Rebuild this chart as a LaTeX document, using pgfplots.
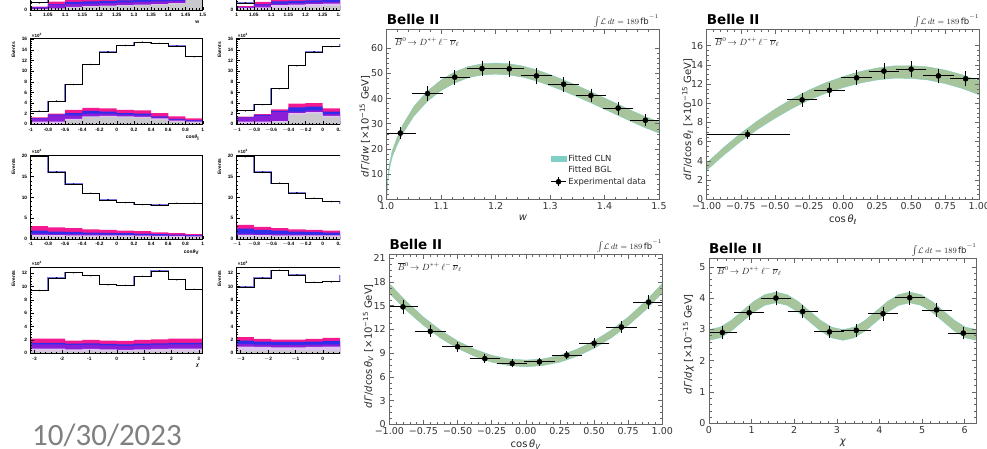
\documentclass[border=0pt]{standalone}
\usepackage{fontspec}
\setmainfont{DejaVu Sans}
\newfontfamily\hfont{Liberation Sans}
\newfontfamily\datefont{Carlito}
\usepackage{pgfplots}
\usepackage{pgfplotstable}
\pgfplotsset{compat=1.18}

\definecolor{hmag}{RGB}{245,25,145}
\definecolor{hblu}{RGB}{45,45,235}
\definecolor{hpur}{RGB}{140,30,215}
\definecolor{hlig}{RGB}{225,195,240}
\definecolor{hgry}{RGB}{200,200,205}
\definecolor{hband}{RGB}{120,120,235}
\definecolor{bandc}{RGB}{168,196,155}
\definecolor{bandedge}{RGB}{120,205,190}
\definecolor{clnteal}{RGB}{127,207,197}

% ---------- histogram tables (x = bin left edge, last row = right edge) ----------
\pgfplotstableread{
x t g l p b m
1.00 1.35 0.1 0.15 0.5 0.55 0.65
1.05 3.5 0.2 0.3 1.0 1.1 1.55
1.10 6.0 0.5 0.6 1.1 1.5 2.1
1.15 8.0 0.6 0.7 1.2 1.6 2.2
1.20 9.0 0.7 0.8 1.3 1.7 2.3
1.25 9.5 0.8 0.9 1.4 1.8 2.4
1.30 9.5 0.9 1.0 1.5 1.9 2.4
1.35 9.0 1.0 1.1 1.6 1.95 2.4
1.40 8.5 1.2 1.3 1.7 2.0 2.3
1.45 8.0 1.9 2.0 2.2 2.3 2.5
1.50 8.0 1.9 2.0 2.2 2.3 2.5
}\hwA
\pgfplotstableread{
x t g l p b m
1.00 1.3 0.1 0.4 0.55 0.6 0.7
1.05 3.2 0.2 0.5 1.0 1.1 1.5
1.10 5.8 0.4 0.9 1.2 1.6 2.1
1.15 7.8 0.5 1.0 1.3 1.7 2.2
1.20 9.0 0.6 1.1 1.4 1.8 2.3
1.25 9.4 0.7 1.2 1.5 1.9 2.4
1.30 9.4 0.8 1.3 1.6 2.0 2.4
1.35 9.0 0.9 1.4 1.7 2.0 2.4
1.40 8.5 1.1 1.5 1.8 2.1 2.3
1.45 8.0 1.7 1.9 2.1 2.2 2.4
1.50 8.0 1.7 1.9 2.1 2.2 2.4
}\hwB
\pgfplotstableread{
x t g l p b m
-1.0 2.45 0.1 0.5 1.1 1.15 1.3
-0.8 4.33 0.1 0.5 1.7 1.8 2.0
-0.6 7.47 0.8 1.0 1.7 2.1 2.7
-0.4 11.23 1.3 1.5 2.0 2.5 3.1
-0.2 13.6 1.4 1.6 2.0 2.4 3.0
0.0 14.8 1.3 1.5 1.8 2.1 2.7
0.2 15.4 1.2 1.4 1.7 2.0 2.6
0.4 15.2 0.9 1.1 1.3 1.5 2.1
0.6 14.7 0.5 0.7 0.9 1.0 1.5
0.8 12.7 0.3 0.5 0.7 0.8 1.1
1.0 12.7 0.3 0.5 0.7 0.8 1.1
}\hclA
\pgfplotstableread{
x t g l p b m
-1.0 2.55 0.1 0.5 1.2 1.3 1.45
-0.8 3.7 0.1 0.5 1.6 1.75 1.9
-0.6 6.7 0.4 0.6 2.3 2.5 2.8
-0.4 11.0 1.8 2.1 2.4 3.2 3.9
-0.2 13.6 2.0 2.3 2.6 3.3 4.0
0.0 14.6 1.3 1.6 1.9 2.4 3.0
0.2 15.0 1.0 1.3 1.6 2.0 2.6
0.4 15.0 0.8 1.1 1.3 1.6 2.1
0.6 14.5 0.5 0.8 1.0 1.2 1.6
0.8 12.5 0.3 0.6 0.8 0.9 1.2
1.0 12.5 0.3 0.6 0.8 0.9 1.2
}\hclB
\pgfplotstableread{
x t g l p b m
-1.0 20.0 0.5 1.0 1.3 2.0 3.1
-0.8 16.1 0.5 0.95 1.2 1.8 2.8
-0.6 13.2 0.5 0.9 1.15 1.7 2.6
-0.4 11.0 0.5 0.9 1.1 1.55 2.3
-0.2 9.4 0.5 0.85 1.05 1.5 2.2
0.0 8.75 0.5 0.85 1.0 1.4 2.0
0.2 8.27 0.45 0.8 0.95 1.3 1.9
0.4 8.2 0.45 0.75 0.9 1.15 1.6
0.6 8.6 0.4 0.7 0.85 1.05 1.4
0.8 8.6 0.4 0.65 0.8 0.95 1.2
1.0 8.6 0.4 0.65 0.8 0.95 1.2
}\hcvA
\pgfplotstableread{
x t g l p b m
-1.0 19.8 0.5 1.0 1.3 2.5 3.4
-0.8 16.1 0.5 0.95 1.2 2.2 2.9
-0.6 13.4 0.5 0.9 1.15 2.0 2.6
-0.4 11.1 0.5 0.9 1.1 1.8 2.3
-0.2 9.8 0.5 0.85 1.05 1.7 2.2
0.0 9.0 0.5 0.85 1.0 1.55 2.0
0.2 8.6 0.45 0.8 0.95 1.4 1.9
0.4 8.4 0.45 0.75 0.9 1.2 1.6
0.6 8.5 0.4 0.7 0.85 1.1 1.4
0.8 8.5 0.4 0.65 0.8 1.0 1.2
1.0 8.5 0.4 0.65 0.8 1.0 1.2
}\hcvB
\pgfplotstableread{
x t g l p b m
-3.1416 9.4 0.3 0.7 1.35 1.55 2.2
-2.5133 11.25 0.3 0.7 1.35 1.55 2.2
-1.8850 12.05 0.3 0.6 1.25 1.45 1.9
-1.2566 11.6 0.3 0.65 1.3 1.5 2.0
-0.6283 10.25 0.3 0.6 1.2 1.4 1.9
0.0000 10.15 0.3 0.5 1.1 1.35 1.85
0.6283 11.5 0.3 0.6 1.2 1.45 2.0
1.2566 12.3 0.3 0.65 1.3 1.5 2.1
1.8850 11.0 0.3 0.7 1.35 1.55 2.2
2.5133 9.55 0.3 0.7 1.35 1.55 2.2
3.1416 9.55 0.3 0.7 1.35 1.55 2.2
}\hchA
\pgfplotstableread{
x t g l p b m
-3.1416 9.9 0.4 1.0 1.4 1.9 2.4
-2.5133 11.25 0.4 0.95 1.3 1.75 2.15
-1.8850 12.4 0.4 0.9 1.25 1.7 2.05
-1.2566 11.7 0.4 0.9 1.25 1.7 2.05
-0.6283 10.6 0.4 0.95 1.3 1.75 2.15
0.0000 10.7 0.4 1.0 1.35 1.85 2.3
0.6283 11.6 0.4 1.0 1.35 1.85 2.3
1.2566 12.3 0.4 0.95 1.3 1.75 2.2
1.8850 11.0 0.4 0.95 1.3 1.75 2.2
2.5133 9.8 0.4 1.0 1.4 1.9 2.4
3.1416 9.8 0.4 1.0 1.4 1.9 2.4
}\hchB

% ---------- Belle II measured points ----------
\pgfplotstableread{
x y ex ey
1.025 26.3 0.025 1.6
1.075 42.0 0.025 2.2
1.125 48.5 0.025 2.4
1.175 51.9 0.025 2.5
1.225 51.8 0.025 2.5
1.275 49.0 0.025 2.4
1.325 45.7 0.025 2.3
1.375 41.2 0.025 2.1
1.425 36.2 0.025 1.9
1.475 31.4 0.025 1.7
}\dW
\pgfplotstableread{
x y ex ey
-0.7 6.75 0.3 0.35
-0.3 10.35 0.1 0.55
-0.1 11.35 0.1 0.55
0.1 12.65 0.1 0.6
0.3 13.35 0.1 0.65
0.5 13.55 0.1 0.65
0.7 12.85 0.1 0.6
0.9 12.55 0.1 0.6
}\dL
\pgfplotstableread{
x y ex ey
-0.9 14.85 0.1 0.7
-0.7 11.75 0.1 0.55
-0.5 9.8 0.1 0.45
-0.3 8.3 0.1 0.35
-0.1 7.7 0.1 0.3
0.1 7.9 0.1 0.3
0.3 8.75 0.1 0.35
0.5 10.25 0.1 0.45
0.7 12.3 0.1 0.55
0.9 15.45 0.1 0.7
}\dV
\pgfplotstableread{
x y ex ey
0.314 2.90 0.314 0.15
0.942 3.53 0.314 0.17
1.571 4.00 0.314 0.18
2.199 3.57 0.314 0.17
2.827 2.92 0.314 0.15
3.456 2.97 0.314 0.15
4.084 3.50 0.314 0.17
4.712 4.01 0.314 0.18
5.341 3.62 0.314 0.17
5.969 2.88 0.314 0.15
}\dC

\pgfplotsset{
  hist/.style={
    scale only axis, width=172pt, anchor=south west,
    axis on top, enlargelimits=false, clip=true,
    tick align=inside, tick pos=left,
    major tick length=3pt, minor tick length=1.6pt,
    every tick/.style={black, line width=0.35pt},
    axis line style={black, line width=0.6pt},
    ticklabel style={font=\hfont\bfseries\fontsize{4.8}{5}\selectfont},
    /pgf/number format/assume math mode=true,
    minor x tick num=4, minor y tick num=4,
    ylabel={Events},
    ylabel style={at={(rel axis cs:-0.1,1)}, anchor=east, font=\hfont\bfseries\fontsize{4.8}{5}\selectfont},
    xlabel style={at={(rel axis cs:1,0)}, anchor=north east, yshift=-7pt, font=\hfont\bfseries\fontsize{5}{6}\selectfont},
    ymin=0,
    after end axis/.code={
      \node[anchor=south west, inner sep=0pt, xshift=1pt, yshift=1pt, font=\hfont\bfseries\fontsize{4.5}{5}\selectfont] at (rel axis cs:0,1) {×10\textsuperscript{3}};
    },
  },
  hidden head/.style={ylabel={}, after end axis/.code={}},
  belle/.style={
    scale only axis, anchor=south west,
    axis on top, clip=true,
    axis line style={black!60, line width=0.6pt},
    every tick/.style={black!60, line width=0.5pt},
    tick align=inside,
    major tick length=4.5pt, minor tick length=2.5pt,
    ticklabel style={font=\fontsize{9.5}{11}\selectfont, text=black!80},
    /pgf/number format/assume math mode=true,
    label style={font=\fontsize{10}{12}\selectfont, text=black!85},
    xlabel style={at={(rel axis cs:0.5,0)}, anchor=north, yshift=-12pt},
    ymin=0,
    after end axis/.code={
      \node[anchor=base west, inner sep=0pt, yshift=5.3pt, font=\bfseries\fontsize{13.5}{15}\selectfont] at (rel axis cs:0,1) {Belle II};
      \node[anchor=base east, inner sep=0pt, yshift=5.3pt, font=\fontsize{8.5}{10}\selectfont, text=black!85] at (rel axis cs:1,1) {$\int\!\mathcal{L}\,dt = 189\,\mathrm{fb}^{-1}$};
      \node[anchor=base west, inner sep=0pt, xshift=8pt, yshift=-16pt, font=\fontsize{9}{10}\selectfont, text=black!85] at (rel axis cs:0,1) {$\overline{B}{}^{0}\!\rightarrow D^{*+}\,\ell^{-}\,\overline{\nu}_{\ell}$};
    },
  },
  pts/.style={only marks, mark=*, mark size=2.6pt, black,
    error bars/.cd, x dir=both, x explicit, y dir=both, y explicit,
    error bar style={line width=0.8pt, black},
    error mark options={black, line width=0.8pt, mark size=1.6pt}},
}

\newcommand{\hstack}[2]{%
  \addplot[const plot mark left, fill=hmag, draw=none] table[x=x,y=m]{#1} \closedcycle;
  \addplot[const plot mark left, fill=hblu, draw=none] table[x=x,y=b]{#1} \closedcycle;
  \addplot[const plot mark left, fill=hpur, draw=none] table[x=x,y=p]{#1} \closedcycle;
  \addplot[const plot mark left, fill=hlig, draw=none] table[x=x,y=l]{#1} \closedcycle;
  \addplot[const plot mark left, fill=hgry, draw=none] table[x=x,y=g]{#1} \closedcycle;
  \addplot[const plot mark left, color=hband, line width=1.4pt] table[x=x,y=t]{#1};
  \addplot[const plot mark left, black, line width=0.5pt] table[x=x,y=t]{#1};
  \addplot[only marks, mark=*, mark size=0.55pt, black, skip coords between index={10}{11}] table[x expr=\thisrow{x}+#2, y=t]{#1};
}

\begin{document}
\begin{tikzpicture}
\useasboundingbox (0,0) rectangle (987pt,448pt);
\clip (0,0) rectangle (987pt,448pt);

% ================= left column histograms =================
\begin{axis}[hist, hidden head, at={(30.7pt,438pt)}, height=86pt, xmin=1, xmax=1.5, ymax=16,
  xtick={1,1.05,1.1,1.15,1.2,1.25,1.3,1.35,1.4,1.45,1.5}, ytick={0,2,...,16}, yticklabels={0,2}, xlabel={w}]
\hstack{\hwA}{0.025}
\end{axis}
\begin{axis}[hist, at={(30.7pt,323.7pt)}, height=85.7pt, xmin=-1, xmax=1, ymax=16.1,
  xtick={-1,-0.8,-0.6,-0.4,-0.2,0,0.2,0.4,0.6,0.8,1}, ytick={0,2,...,16}, xlabel={cos\textit{θ}\textsubscript{l}}]
\hstack{\hclA}{0.1}
\end{axis}
\begin{axis}[hist, at={(30.7pt,209pt)}, height=84pt, xmin=-1, xmax=1, ymax=20.2,
  xtick={-1,-0.8,-0.6,-0.4,-0.2,0,0.2,0.4,0.6,0.8,1}, ytick={0,5,...,20}, xlabel={cos\textit{θ}\textsubscript{V}}]
\hstack{\hcvA}{0.1}
\end{axis}
\begin{axis}[hist, at={(30.7pt,94.7pt)}, height=86.3pt, xmin=-3.1416, xmax=3.1416, ymax=12.9,
  xtick={-3,-2,-1,0,1,2,3}, ytick={0,2,...,12}, xlabel={\textit{χ}}]
\hstack{\hchA}{0.31416}
\end{axis}

% ================= second column histograms (cut off) =================
\begin{scope}
\clip (0,0) rectangle (340pt,448pt);
\begin{axis}[hist, hidden head, at={(236.7pt,438pt)}, height=86pt, xmin=1, xmax=1.5, ymax=16,
  xtick={1,1.05,1.1,1.15,1.2,1.25,1.3,1.35,1.4,1.45,1.5},
  xticklabels={1,1.05,1.1,1.15,1.2,1.25,1.3},
  ytick={0,2,...,16}, yticklabels={0,2}]
\hstack{\hwB}{0.025}
\end{axis}
\begin{axis}[hist, at={(236.7pt,323.7pt)}, height=85.7pt, xmin=-1, xmax=1, ymax=16.1,
  xtick={-1,-0.8,-0.6,-0.4,-0.2,0,0.2,0.4,0.6,0.8,1},
  xticklabels={$-$1,$-$0.8,$-$0.6,$-$0.4,$-$0.2,0,0.2}, ytick={0,2,...,16}]
\hstack{\hclB}{0.1}
\end{axis}
\begin{axis}[hist, at={(236.7pt,209pt)}, height=84pt, xmin=-1, xmax=1, ymax=20.2,
  xtick={-1,-0.8,-0.6,-0.4,-0.2,0,0.2,0.4,0.6,0.8,1},
  xticklabels={$-$1,$-$0.8,$-$0.6,$-$0.4,$-$0.2,0,0.2}, ytick={0,5,...,20}]
\hstack{\hcvB}{0.1}
\end{axis}
\begin{axis}[hist, at={(236.7pt,94.7pt)}, height=86.3pt, xmin=-3.1416, xmax=3.1416, ymax=12.9,
  xtick={-3,-2,-1,0,1,2,3}, xticklabels={$-$3,$-$2,$-$1,0}, ytick={0,2,...,12}]
\hstack{\hchB}{0.31416}
\end{axis}
\end{scope}

% ================= Belle II: w =================
\begin{axis}[belle, at={(386.7pt,248.7pt)}, width=272.3pt, height=170pt,
  xmin=1, xmax=1.5, ymax=67.5,
  xtick={1,1.1,1.2,1.3,1.4,1.5}, xticklabels={1.0,1.1,1.2,1.3,1.4,1.5},
  ytick={0,10,20,30,40,50,60}, minor x tick num=4, minor y tick num=4,
  xlabel={\textit{w}},
  ylabel={\textit{dΓ}/\textit{dw} [×10\textsuperscript{−15} GeV]},
  ylabel style={at={(rel axis cs:-0.08,0.43)}, anchor=center},
  legend style={at={(rel axis cs:0.59,0.285)}, anchor=north west, draw=none, fill=none,
    font=\fontsize{8.4}{10}\selectfont, text=black!85, row sep=-0.5pt},
  legend cell align=left]
\addplot[fill=bandc, draw=bandedge, line width=0.4pt, forget plot] coordinates {
(1.000,0) (1.002,8.6) (1.005,13.9) (1.01,19.2) (1.02,25.0) (1.03,29.7) (1.04,33.3) (1.05,36.9) (1.075,43.0) (1.1,47.4) (1.125,50.6) (1.15,52.7) (1.175,53.8) (1.2,54.1) (1.225,53.8) (1.25,52.9) (1.275,51.4) (1.3,49.5) (1.325,47.4) (1.35,45.1) (1.375,42.7) (1.4,40.2) (1.425,37.7) (1.45,35.2) (1.475,32.8) (1.5,30.7)
(1.5,26.3) (1.475,28.4) (1.45,30.8) (1.425,33.3) (1.4,35.8) (1.375,38.3) (1.35,40.7) (1.325,43.0) (1.3,45.1) (1.275,47.0) (1.25,48.5) (1.225,49.4) (1.2,49.7) (1.175,49.4) (1.15,48.3) (1.125,46.2) (1.1,43.2) (1.075,39.0) (1.05,33.1) (1.04,29.7) (1.03,26.3) (1.02,22.0) (1.01,16.8) (1.005,12.1) (1.002,7.4) (1.000,0)};
\addlegendimage{legend image code/.code={\fill[clnteal] (0pt,-2.6pt) rectangle (15pt,2.6pt);}}
\addlegendentry{Fitted CLN}
\addlegendimage{legend image code/.code={}}
\addlegendentry{Fitted BGL}
\addplot[legend image code/.code={\draw[black,line width=0.8pt] (0pt,0pt)--(15pt,0pt) (7.5pt,-4.5pt)--(7.5pt,4.5pt); \fill[black] (7.5pt,0pt) circle (2.6pt);}, pts]
  table[x=x, y=y, x error=ex, y error=ey]{\dW};
\addlegendentry{Experimental data}
\end{axis}

% ================= Belle II: cos theta_l =================
\begin{axis}[belle, at={(706.7pt,248.7pt)}, width=272.6pt, height=170pt,
  xmin=-1, xmax=1, ymax=17.7,
  xtick={-1,-0.75,-0.5,-0.25,0,0.25,0.5,0.75,1},
  xticklabels={−1.00,−0.75,−0.50,−0.25,0.00,0.25,0.50,0.75,1.00},
  ytick={0,2,...,16}, minor x tick num=4, minor y tick num=3,
  xlabel={cos\,\textit{θ}\textsubscript{\textit{ℓ}}},
  ylabel={\textit{dΓ}/\textit{d}cos\,\textit{θ}\textsubscript{\textit{ℓ}} [×10\textsuperscript{−15} GeV]},
  ylabel style={at={(rel axis cs:-0.07,0.47)}, anchor=center}]
\addplot[fill=bandc, draw=bandedge, line width=0.4pt] coordinates {
(-1,3.78) (-0.875,5.40) (-0.75,6.87) (-0.625,8.19) (-0.5,9.37) (-0.375,10.45) (-0.25,11.37) (-0.125,12.15) (0,12.77) (0.125,13.30) (0.25,13.67) (0.375,13.89) (0.5,13.91) (0.625,13.78) (0.75,13.45) (0.875,12.96) (1,12.32)
(1,10.88) (0.875,11.54) (0.75,12.05) (0.625,12.42) (0.5,12.59) (0.375,12.61) (0.25,12.43) (0.125,12.10) (0,11.63) (-0.125,11.05) (-0.25,10.33) (-0.375,9.45) (-0.5,8.43) (-0.625,7.31) (-0.75,6.03) (-0.875,4.60) (-1,3.02)};
\addplot[pts] table[x=x, y=y, x error=ex, y error=ey]{\dL};
\end{axis}

% ================= Belle II: cos theta_V =================
\begin{axis}[belle, at={(389.3pt,23.7pt)}, width=273pt, height=170pt,
  xmin=-1, xmax=1, ymax=21.5,
  xtick={-1,-0.75,-0.5,-0.25,0,0.25,0.5,0.75,1},
  xticklabels={−1.00,−0.75,−0.50,−0.25,0.00,0.25,0.50,0.75,1.00},
  ytick={0,3,...,21}, minor x tick num=4, minor y tick num=3,
  xlabel={cos\,\textit{θ}\textsubscript{\textit{V}}},
  ylabel={\textit{dΓ}/\textit{d}cos\,\textit{θ}\textsubscript{\textit{V}} [×10\textsuperscript{−15} GeV]},
  ylabel style={at={(rel axis cs:-0.077,0.46)}, anchor=center}]
\addplot[fill=bandc, draw=bandedge, line width=0.4pt] coordinates {
(-1,17.8) (-0.875,15.53) (-0.75,13.56) (-0.625,11.90) (-0.5,10.54) (-0.375,9.49) (-0.25,8.72) (-0.125,8.27) (0,8.12) (0.125,8.27) (0.25,8.72) (0.375,9.49) (0.5,10.54) (0.625,11.90) (0.75,13.56) (0.875,15.53) (1,17.8)
(1,16.6) (0.875,14.41) (0.75,12.52) (0.625,10.92) (0.5,9.61) (0.375,8.60) (0.25,7.86) (0.125,7.43) (0,7.28) (-0.125,7.43) (-0.25,7.86) (-0.375,8.60) (-0.5,9.61) (-0.625,10.92) (-0.75,12.52) (-0.875,14.41) (-1,16.6)};
\addplot[pts] table[x=x, y=y, x error=ex, y error=ey]{\dV};
\end{axis}

% ================= Belle II: chi =================
\begin{axis}[belle, at={(709pt,24.7pt)}, width=267.7pt, height=165pt,
  xmin=0, xmax=6.2832, ymax=5.27,
  xtick={0,1,2,3,4,5,6}, ytick={0,1,2,3,4,5}, minor x tick num=4, minor y tick num=4,
  xlabel={\textit{χ}},
  ylabel={\textit{dΓ}/\textit{dχ} [×10\textsuperscript{−15} GeV]},
  ylabel style={at={(rel axis cs:-0.077,0.48)}, anchor=center}]
\addplot[fill=bandc, draw=bandedge, line width=0.4pt] coordinates {
(0,2.99) (0.262,3.07) (0.524,3.29) (0.785,3.59) (1.047,3.89) (1.309,4.11) (1.571,4.19) (1.833,4.11) (2.094,3.89) (2.356,3.59) (2.618,3.29) (2.880,3.07) (3.142,2.99) (3.403,3.07) (3.665,3.29) (3.927,3.59) (4.189,3.89) (4.451,4.11) (4.712,4.19) (4.974,4.11) (5.236,3.89) (5.498,3.59) (5.760,3.29) (6.021,3.07) (6.283,2.99)
(6.283,2.65) (6.021,2.73) (5.760,2.95) (5.498,3.25) (5.236,3.55) (4.974,3.77) (4.712,3.85) (4.451,3.77) (4.189,3.55) (3.927,3.25) (3.665,2.95) (3.403,2.73) (3.142,2.65) (2.880,2.73) (2.618,2.95) (2.356,3.25) (2.094,3.55) (1.833,3.77) (1.571,3.85) (1.309,3.77) (1.047,3.55) (0.785,3.25) (0.524,2.95) (0.262,2.73) (0,2.65)};
\addplot[pts] table[x=x, y=y, x error=ex, y error=ey]{\dC};
\end{axis}

% ================= date =================
\node[anchor=base west, inner sep=0pt, text=black!50, font=\datefont\fontsize{31}{34}\selectfont] at (32pt,3pt) {10/30/2023};
\end{tikzpicture}
\end{document}
